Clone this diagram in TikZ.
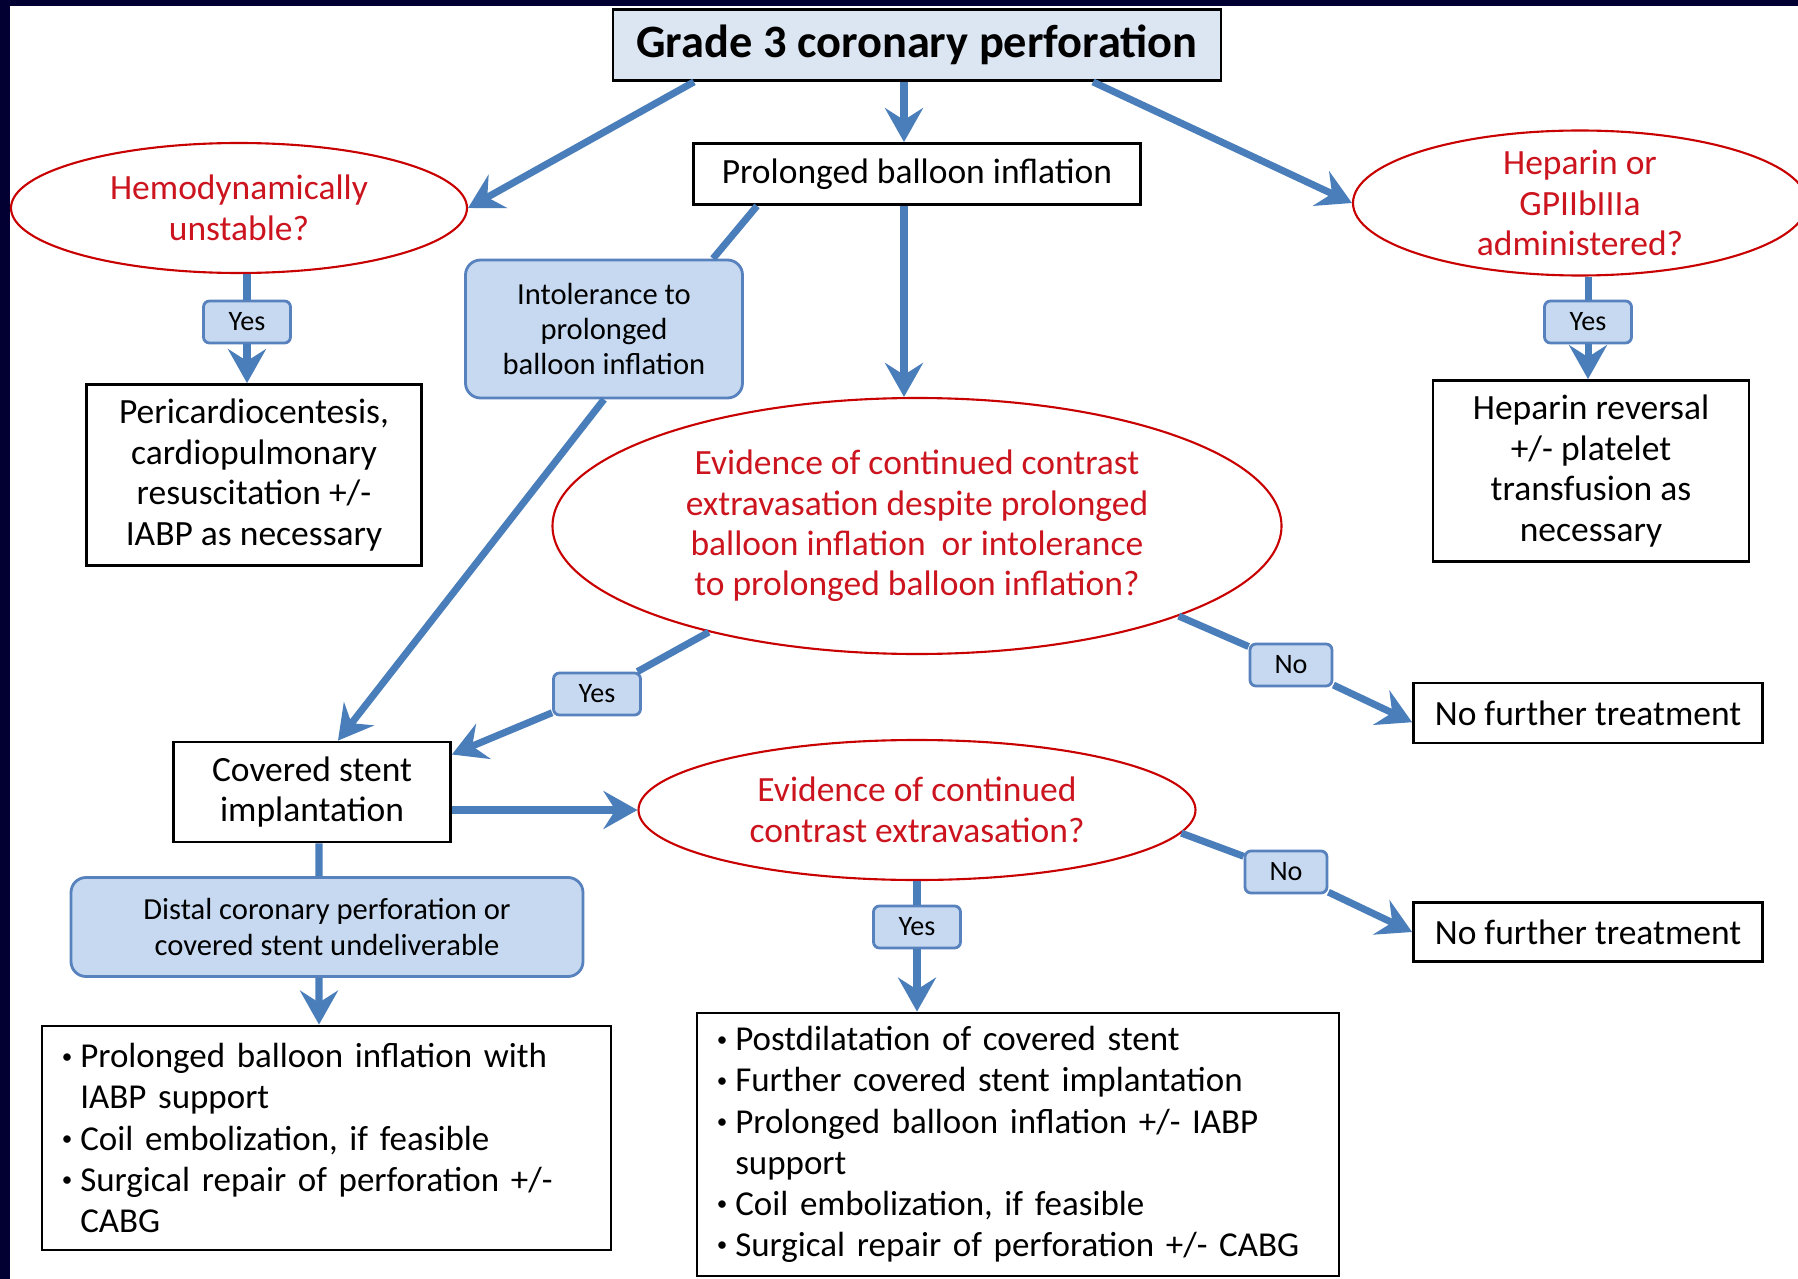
\documentclass[tikz,border=0pt]{standalone}
\usepackage{fontspec}
\setmainfont{Carlito}
\usepackage{tikz}
\usetikzlibrary{arrows.meta, shapes.geometric, positioning, calc}
\definecolor{navyframe}{RGB}{2,0,50}
\definecolor{arrblue}{RGB}{74,126,187}
\definecolor{condfill}{RGB}{198,217,241}
\definecolor{condblue}{RGB}{88,130,190}
\definecolor{titlefill}{RGB}{220,230,242}
\definecolor{ellred}{RGB}{200,0,0}
\definecolor{txtred}{RGB}{204,20,30}
\newcommand{\bul}{\makebox[0.58em][l]{\hspace*{0.05em}\raisebox{0.28ex}{\fontsize{6}{6}\selectfont\textbullet}}}
\newcommand{\ind}{\hspace*{0.58em}}

\begin{document}
\begin{tikzpicture}[
    txt/.style={font=\fontsize{10.1}{11.5}\selectfont},
    action/.style={draw=black, line width=0.8pt, fill=white, align=center, txt},
    decision/.style={ellipse, draw=ellred, line width=0.6pt, fill=white, text=txtred,
                     align=center, inner sep=0pt, txt},
    cond/.style={draw=condblue, line width=0.8pt, fill=condfill, rounded corners=0.15cm,
                 align=center, font=\fontsize{8.7}{10}\selectfont},
    answer/.style={draw=condblue, line width=0.8pt, fill=condfill, rounded corners=0.06cm,
                   minimum width=0.87cm, minimum height=0.42cm, inner sep=0pt,
                   font=\fontsize{8}{9}\selectfont},
    bullets/.style={action, align=left, inner xsep=0.18cm, text width=#1,
                    font=\fontsize{9.95}{11.7}\selectfont},
    arr/.style={-{Stealth[length=0.34cm, width=0.38cm, inset=0.12cm]}, line width=2pt, arrblue},
    link/.style={line width=2pt, arrblue}
  ]
    % Frame
    \useasboundingbox (0,0) rectangle (17.98,-12.79);
    \fill[navyframe] (0,0) rectangle (17.98,-12.79);
    \fill[white] (0.10,-0.06) rectangle (17.98,-12.79);

    % Top
    \node[action, fill=titlefill, minimum width=6.08cm, minimum height=0.71cm,
          font=\bfseries\fontsize{13.2}{15}\selectfont] (grade) at (9.17,-0.45) {Grade 3 coronary perforation};
    \node[action, minimum width=4.47cm, minimum height=0.61cm] (balloon) at (9.17,-1.74) {Prolonged balloon inflation};
    \node[decision, minimum width=4.56cm, minimum height=1.30cm] (unstable) at (2.39,-2.08) {Hemodynamically\\unstable?};
    \node[decision, minimum width=4.54cm, minimum height=1.45cm, inner ysep=-0.15cm] (heparin) at (15.80,-2.03) {Heparin or\\GPIIbIIIa\\administered?};

    % Left and right branches
    \node[answer] (yesA) at (2.47,-3.22) {Yes};
    \node[action, minimum width=3.35cm, minimum height=1.81cm] (pericard) at (2.54,-4.75) {Pericardiocentesis,\\cardiopulmonary\\resuscitation +/-\\IABP as necessary};
    \node[cond, minimum width=2.77cm, minimum height=1.38cm] (intol) at (6.04,-3.29) {Intolerance to\\prolonged\\balloon inflation};
    \node[answer] (yesB) at (15.88,-3.22) {Yes};
    \node[action, minimum width=3.16cm, minimum height=1.81cm] (reversal) at (15.91,-4.71) {Heparin reversal\\+/- platelet\\transfusion as\\necessary};

    % Middle
    \node[decision, minimum width=7.29cm, minimum height=2.56cm] (leak) at (9.17,-5.26) {Evidence of continued contrast\\extravasation despite prolonged\\balloon inflation \ or intolerance\\to prolonged balloon inflation?};
    \node[answer] (yesC) at (5.97,-6.94) {Yes};
    \node[answer, minimum width=0.82cm] (noA) at (12.91,-6.65) {No};
    \node[action, minimum width=3.49cm, minimum height=0.60cm] (stopA) at (15.88,-7.13) {No further treatment};
    \node[action, minimum width=2.77cm, minimum height=1.00cm] (covered) at (3.12,-7.92) {Covered stent\\implantation};
    \node[decision, minimum width=5.57cm, minimum height=1.40cm] (leak2) at (9.17,-8.10) {Evidence of continued\\contrast extravasation?};
    \node[answer, minimum width=0.82cm] (noB) at (12.86,-8.72) {No};
    \node[action, minimum width=3.49cm, minimum height=0.59cm] (stopB) at (15.88,-9.32) {No further treatment};
    \node[answer] (yesD) at (9.17,-9.27) {Yes};
    \node[cond, minimum width=5.12cm, minimum height=0.99cm] (distal) at (3.27,-9.27) {Distal coronary perforation or\\covered stent undeliverable};

    % Bottom lists
    \node[bullets=5.33cm, minimum height=2.24cm] (bailout) at (3.265,-11.38)
      {\bul Prolonged balloon inflation with\\\ind IABP support\\\bul Coil embolization, if feasible\\\bul Surgical repair of perforation +/-\\\ind CABG};
    \node[bullets=6.06cm, minimum height=2.63cm] (options) at (10.18,-11.445)
      {\bul Postdilatation of covered stent\\\bul Further covered stent implantation\\\bul Prolonged balloon inflation +/- IABP\\\ind support\\\bul Coil embolization, if feasible\\\bul Surgical repair of perforation +/- CABG};

    % Arrows from the top
    \draw[arr] ($(grade.south)+(-2.23,0)$) -- (unstable.east);
    \draw[arr] ($(grade.south)+(-0.13,0)$) -- ($(balloon.north)+(-0.13,0)$);
    \draw[arr] ($(grade.south)+(1.76,0)$) -- (heparin.west);
    \draw[arr] ($(balloon.south)+(-0.13,0)$) -- ($(leak.north)+(-0.13,0)$);
    \draw[link] ($(balloon.south)+(-1.60,0)$) -- ($(intol.north)+(1.09,0)$);
    \draw[arr] (intol.south) -- ($(covered.north)+(0.26,0)$);

    % Yes / No branches
    \draw[link] (yesA) -- (yesA |- unstable.south);
    \draw[arr] (yesA) -- (yesA |- pericard.north);
    \draw[link] (yesB) -- (yesB |- heparin.south);
    \draw[arr] (yesB) -- (yesB |- reversal.north);
    \draw[link] (leak.207) -- (yesC);
    \draw[arr] (yesC) -- (covered.15);
    \draw[link] (leak.341) -- (noA);
    \draw[arr] (noA) -- (stopA.183);
    \draw[arr] (covered.east |- leak2.west) -- (leak2.west);
    \draw[link] (leak2.south) -- (yesD);
    \draw[arr] (yesD) -- (yesD |- options.north);
    \draw[link] (leak2.355) -- (noB);
    \draw[arr] (noB) -- (stopB.west);

    % Down the left side
    \draw[link] ($(covered.south)+(0.07,0)$) -- ($(distal.north)+(-0.08,0)$);
    \draw[arr] ($(distal.south)+(-0.08,0)$) -- ($(bailout.north)+(-0.075,0)$);

  \end{tikzpicture}
\end{document}
